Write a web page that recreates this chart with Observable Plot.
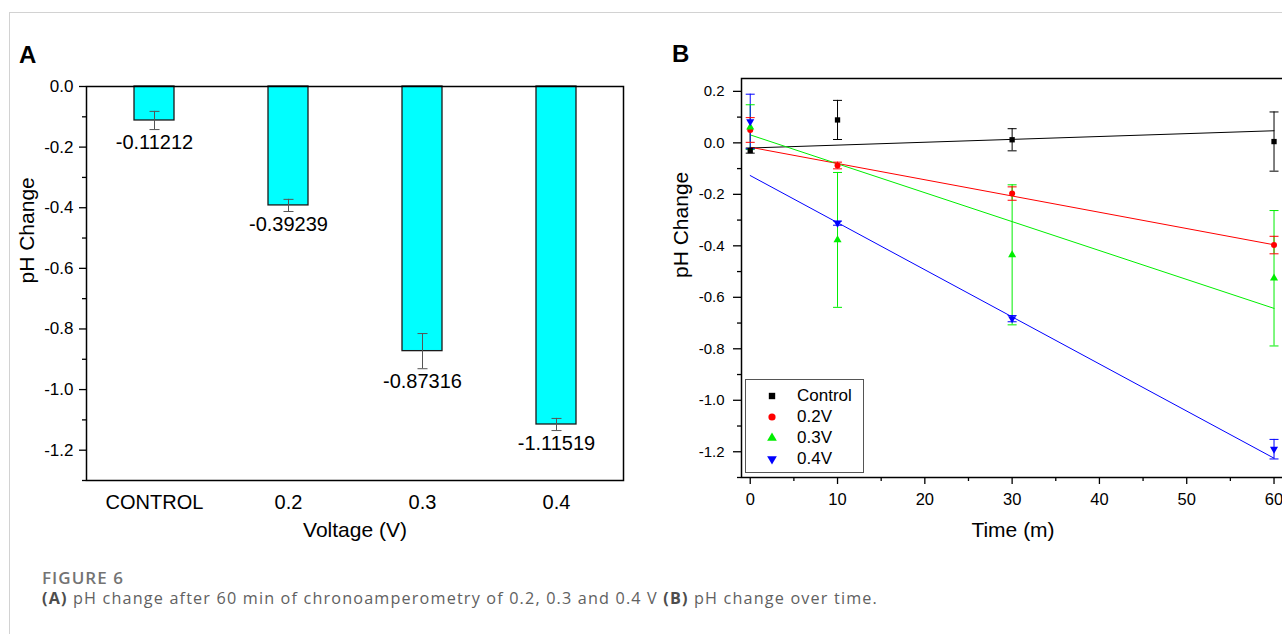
<!DOCTYPE html>
<html>
<head>
<meta charset="utf-8">
<script src="https://cdn.jsdelivr.net/npm/d3@7"></script>
<script src="https://cdn.jsdelivr.net/npm/@observablehq/plot@0.6"></script>
<style>
  html, body { margin: 0; padding: 0; background: #fff; overflow: hidden; }
  #page { position: relative; width: 1282px; height: 634px; overflow: hidden; }
  #page svg { max-width: none !important; }
  #frameLines { position: absolute; left: 9px; top: 12px; right: -2px; bottom: -2px; border-left: 1px solid #d2d2d2; border-top: 1px solid #d2d2d2; }
  .panelLetter { position: absolute; font: bold 24px "Liberation Sans", Arial, sans-serif; color: #000; }
  #legend { position: absolute; left: 745px; top: 379px; width: 119px; height: 94px; box-sizing: border-box; border: 1px solid #555; background: #fff; }
  .lgRow { position: absolute; left: 0; font: 17px "Liberation Sans", Arial, sans-serif; color: #000; }
  .cap { position: absolute; left: 42px; font-family: "Open Sans", sans-serif; white-space: nowrap; line-height: 1; }
</style>
</head>
<body>
<div id="page">
  <div id="frameLines"></div>
  <div id="panelA" style="position:absolute;left:0;top:0;width:660px"></div>
  <div id="panelB" style="position:absolute;left:660px;top:0;width:640px"></div>
  <div class="panelLetter" style="left:19px;top:41px">A</div>
  <div class="panelLetter" style="left:672px;top:40px">B</div>
  <div id="legend"></div>
  <div id="capTitle" class="cap" style="top:569px;font-size:17px;font-weight:600;color:#737373">FIGURE 6</div>
  <div id="capText" class="cap" style="top:590px;font-size:16.2px;color:#616161"><b style="color:#4d4d4d">(A)</b> pH change after 60 min of chronoamperometry of 0.2, 0.3 and 0.4 V <b style="color:#4d4d4d">(B)</b> pH change over time.</div>
</div>
<script>
// ---------- Panel A data ----------
const categories = ["CONTROL", "0.2", "0.3", "0.4"];
const barValues = [-0.11212, -0.39239, -0.87316, -1.11519];
const barErrors = [0.030, 0.020, 0.058, 0.020];
const yTicksA = [0, -0.2, -0.4, -0.6, -0.8, -1.0, -1.2];
const yMinorA = [-0.1, -0.3, -0.5, -0.7, -0.9, -1.1, -1.3];

// ---------- Panel B data ----------
const times = [0, 10, 30, 60];
const seriesNames = ["Control", "0.2V", "0.3V", "0.4V"];
const seriesColors = ["#000000", "#ff0000", "#00ee00", "#0000ff"];
const seriesSymbols = ["square", "circle", "triangle", "triangle"];
const seriesRotate = [0, 0, 0, 180];
const controlMean = [-0.030, 0.089, 0.012, 0.005];
const controlErr  = [0.010, 0.076, 0.043, 0.115];
const v02Mean = [0.050, -0.088, -0.197, -0.397];
const v02Err  = [0.048, 0.013, 0.026, 0.034];
const v03Mean = [0.061, -0.377, -0.435, -0.526];
const v03Err  = [0.087, 0.262, 0.272, 0.263];
const v04Mean = [0.083, -0.312, -0.683, -1.190];
const v04Err  = [0.106, 0.008, 0.012, 0.038];
const fitAt0  = [-0.020, -0.017, 0.031, -0.127];
const fitAt60 = [0.047, -0.396, -0.643, -1.225];
const xTicksB = [0, 10, 20, 30, 40, 50, 60];
const xMinorB = [5, 15, 25, 35, 45, 55];
const yTicksB = [0.2, 0, -0.2, -0.4, -0.6, -0.8, -1.0, -1.2];
const yMinorB = [0.1, -0.1, -0.3, -0.5, -0.7, -0.9, -1.1, -1.3];

const FONT = "'Liberation Sans', Arial, Helvetica, sans-serif";
const capSymbol = { draw(ctx, size) { const r = Math.sqrt(size / Math.PI); ctx.moveTo(-r, 0); ctx.lineTo(r, 0); } };
const fmt1 = d => (Math.abs(d) < 1e-9 ? 0 : d).toFixed(1);
const svgStyle = {fontFamily: FONT, color: "#000", background: "transparent", overflow: "visible", maxWidth: "none"};

// ---------- Panel A ----------
const barRows = categories.map((c, i) => ({cat: c, v: barValues[i], e: barErrors[i]}));
const plotA = Plot.plot({
  width: 660, height: 560,
  marginLeft: 86, marginRight: 37, marginTop: 86, marginBottom: 80,
  style: svgStyle,
  x: {domain: categories, padding: 0},
  y: {domain: [-1.3, 0]},
  marks: [
    Plot.barY(barRows, {x: "cat", y: "v", fill: "#00ffff", stroke: "#1a1a1a", strokeWidth: 1.3, insetLeft: 47, insetRight: 47}),
    Plot.ruleX(barRows, {x: "cat", y1: d => d.v - d.e, y2: d => d.v + d.e, stroke: "#555", strokeWidth: 1}),
    Plot.dot(barRows, {x: "cat", y: d => d.v + d.e, symbol: capSymbol, r: 5, stroke: "#555", fill: "none", strokeWidth: 1}),
    Plot.dot(barRows, {x: "cat", y: d => d.v - d.e, symbol: capSymbol, r: 5, stroke: "#555", fill: "none", strokeWidth: 1}),
    Plot.text(barRows, {x: "cat", y: d => d.v - d.e, text: d => d.v.toFixed(5), lineAnchor: "top", dy: 5, fontSize: 20, fill: "#000"}),
    Plot.axisY({ticks: yTicksA, tickSize: 7, tickPadding: 6, tickFormat: fmt1, fontSize: 17, strokeWidth: 1.3, label: null}),
    Plot.axisY({ticks: yMinorA, tickSize: 4, tickFormat: () => "", strokeWidth: 1.3, label: null}),
    Plot.axisX({tickSize: 0, tickPadding: 14, fontSize: 20, label: null}),
    Plot.text(["pH Change"], {frameAnchor: "left", text: d => d, rotate: -90, dx: -59, fontSize: 21, fill: "#000"}),
    Plot.text(["Voltage (V)"], {frameAnchor: "bottom", text: d => d, dy: 56, fontSize: 21, fill: "#000"}),
    Plot.frame({stroke: "#000", strokeWidth: 1.5})
  ]
});
document.getElementById("panelA").append(plotA);

// ---------- Panel B ----------
const means = [controlMean, v02Mean, v03Mean, v04Mean];
const errs = [controlErr, v02Err, v03Err, v04Err];
const rows = [];
seriesNames.forEach((s, i) => times.forEach((t, j) => rows.push({series: s, idx: i, t, v: means[i][j], e: errs[i][j]})));
const fitRows = [];
seriesNames.forEach((s, i) => {
  fitRows.push({series: s, t: times[0], v: fitAt0[i]});
  fitRows.push({series: s, t: times[times.length - 1], v: fitAt60[i]});
});

const plotB = Plot.plot({
  width: 640, height: 560,
  marginLeft: 81, marginRight: 16, marginTop: 78, marginBottom: 83,
  style: svgStyle,
  x: {domain: [-1, 61.2]},
  y: {domain: [-1.3, 0.25]},
  color: {domain: seriesNames, range: seriesColors},
  symbol: {domain: seriesNames, range: seriesSymbols},
  marks: [
    Plot.line(fitRows, {x: "t", y: "v", z: "series", stroke: "series", strokeWidth: 1}),
    Plot.ruleX(rows, {x: "t", y1: d => d.v - d.e, y2: d => d.v + d.e, stroke: "series", strokeWidth: 1}),
    Plot.dot(rows, {x: "t", y: d => d.v + d.e, symbol: capSymbol, r: 4.5, stroke: "series", fill: "none", strokeWidth: 1}),
    Plot.dot(rows, {x: "t", y: d => d.v - d.e, symbol: capSymbol, r: 4.5, stroke: "series", fill: "none", strokeWidth: 1}),
    Plot.dot(rows, {x: "t", y: "v", symbol: "series", fill: "series", stroke: "none", r: d => d.idx === 1 ? 3.6 : 3.6, rotate: d => seriesRotate[d.idx]}),
    Plot.axisY({ticks: yTicksB, tickSize: 8, tickPadding: 9, tickFormat: fmt1, fontSize: 15, strokeWidth: 1.3, label: null}),
    Plot.axisY({ticks: yMinorB, tickSize: 4, tickFormat: () => "", strokeWidth: 1.3, label: null}),
    Plot.axisX({ticks: xTicksB, tickSize: 7, tickPadding: 9, tickFormat: d => String(d), fontSize: 16.5, strokeWidth: 1.3, label: null}),
    Plot.axisX({ticks: xMinorB, tickSize: 4, tickFormat: () => "", strokeWidth: 1.3, label: null}),
    Plot.text(["pH Change"], {frameAnchor: "left", text: d => d, rotate: -90, dx: -60, fontSize: 21, fill: "#000"}),
    Plot.text(["Time (m)"], {frameAnchor: "bottom", text: d => d, dy: 59, fontSize: 21, fill: "#000"}),
    Plot.frame({stroke: "#000", strokeWidth: 1.5})
  ]
});
document.getElementById("panelB").append(plotB);

// ---------- Legend (panel B) ----------
const legend = d3.select("#legend");
const rowTops = [16, 37, 58, 79];
seriesNames.forEach((s, i) => {
  const row = legend.append("div").attr("class", "lgRow").style("top", (rowTops[i] - 11) + "px").style("height", "22px").style("width", "117px");
  const svg = row.append("svg").attr("width", 20).attr("height", 22).style("position", "absolute").style("left", "16px").style("top", "0px");
  const sym = {square: d3.symbolSquare, circle: d3.symbolCircle, triangle: d3.symbolTriangle}[seriesSymbols[i]];
  const r = 3.6;
  svg.append("path")
    .attr("d", d3.symbol(sym, Math.PI * r * r)())
    .attr("transform", `translate(10,11) rotate(${seriesRotate[i]})`)
    .attr("fill", seriesColors[i]);
  row.append("span").text(s).style("position", "absolute").style("left", "51px").style("top", "1px").style("line-height", "20px");
});

// ---------- Caption: stretch letter spacing to the reference widths ----------
function fitWidth(id, target) {
  const el = document.getElementById(id);
  const n = el.textContent.length;
  const w = el.getBoundingClientRect().width;
  el.style.letterSpacing = ((target - w) / n) + "px";
}
fitWidth("capTitle", 82);
fitWidth("capText", 836);
</script>
</body>
</html>
